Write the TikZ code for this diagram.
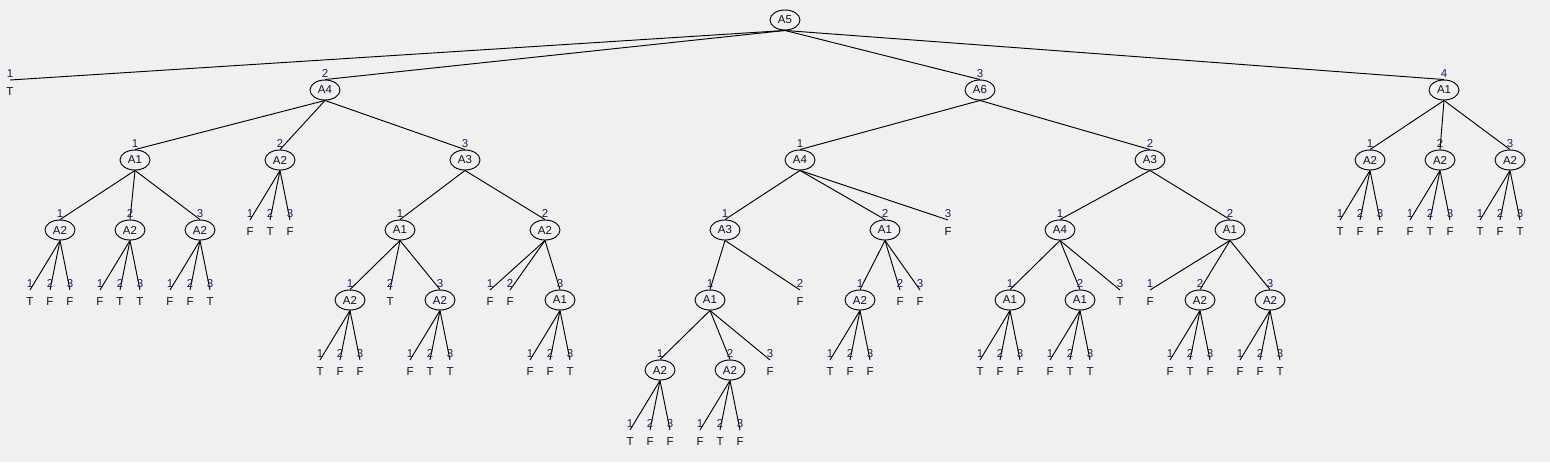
\documentclass[tikz,border=0pt]{standalone}
\usepackage{fontspec}
\setmainfont{Liberation Sans}
\usetikzlibrary{shapes.geometric}
\definecolor{bgcol}{HTML}{F0F0F0}
\definecolor{numcol}{HTML}{1A1C5C}
\definecolor{txtcol}{HTML}{0E1026}
\tikzset{
  inode/.style={ellipse, draw=black, line width=0.7pt, minimum width=22.5pt, minimum height=15pt, inner sep=0pt, font=\fontsize{8.6}{10}\selectfont, text=txtcol},
  leaf/.style={anchor=north, inner xsep=0.5pt, inner ysep=5.25pt, text height=6pt, text depth=0pt, font=\fontsize{8.6}{10}\selectfont, text=txtcol},
  conn/.style={draw=black, line width=0.7pt},
  num/.style={anchor=south, inner sep=1.4pt, font=\fontsize{8.6}{10}\selectfont, text=numcol}
}
\newcommand\tfleaves[6]{%
  \node[leaf] (#1-1) at (#2-30,#3-10) {#4};
  \node[leaf] (#1-2) at (#2-10,#3-10) {#5};
  \node[leaf] (#1-3) at (#2+10,#3-10) {#6};
  \draw[conn] (#1.south) -- (#1-1.north) node[num]{1};
  \draw[conn] (#1.south) -- (#1-2.north) node[num]{2};
  \draw[conn] (#1.south) -- (#1-3.north) node[num]{3};
}
\begin{document}
\begin{tikzpicture}[x=0.75pt, y=-0.75pt]
\fill[bgcol] (0,0) rectangle (1550,462);
\useasboundingbox (0,0) rectangle (1550,462);
% level 0/1
\node[inode] (r) at (785,20) {A5};
\node[leaf] (r1) at (10,80) {T};
\node[inode] (r2) at (325,90) {A4};
\node[inode] (r3) at (980,90) {A6};
\node[inode] (r4) at (1444,90) {A1};
\draw[conn] (r.south) -- (r1.north) node[num]{1};
\draw[conn] (r.south) -- (r2.north) node[num]{2};
\draw[conn] (r.south) -- (r3.north) node[num]{3};
\draw[conn] (r.south) -- (r4.north) node[num]{4};
% subtree A4
\node[inode] (r21) at (135,160) {A1};
\node[inode] (r22) at (280,160) {A2};
\node[inode] (r23) at (465,160) {A3};
\draw[conn] (r2.south) -- (r21.north) node[num]{1};
\draw[conn] (r2.south) -- (r22.north) node[num]{2};
\draw[conn] (r2.south) -- (r23.north) node[num]{3};
\node[inode] (r211) at (60,230) {A2};
\node[inode] (r212) at (130,230) {A2};
\node[inode] (r213) at (200,230) {A2};
\draw[conn] (r21.south) -- (r211.north) node[num]{1};
\draw[conn] (r21.south) -- (r212.north) node[num]{2};
\draw[conn] (r21.south) -- (r213.north) node[num]{3};
\tfleaves{r211}{60}{300}{T}{F}{F}
\tfleaves{r212}{130}{300}{F}{T}{T}
\tfleaves{r213}{200}{300}{F}{F}{T}
\tfleaves{r22}{280}{230}{F}{T}{F}
\node[inode] (r231) at (400,230) {A1};
\node[inode] (r232) at (545,230) {A2};
\draw[conn] (r23.south) -- (r231.north) node[num]{1};
\draw[conn] (r23.south) -- (r232.north) node[num]{2};
\node[inode] (r2311) at (350,300) {A2};
\node[leaf] (r2312) at (390,290) {T};
\node[inode] (r2313) at (440,300) {A2};
\draw[conn] (r231.south) -- (r2311.north) node[num]{1};
\draw[conn] (r231.south) -- (r2312.north) node[num]{2};
\draw[conn] (r231.south) -- (r2313.north) node[num]{3};
\tfleaves{r2311}{350}{370}{T}{F}{F}
\tfleaves{r2313}{440}{370}{F}{T}{T}
\node[leaf] (r2321) at (490,290) {F};
\node[leaf] (r2322) at (510,290) {F};
\node[inode] (r2323) at (560,300) {A1};
\draw[conn] (r232.south) -- (r2321.north) node[num]{1};
\draw[conn] (r232.south) -- (r2322.north) node[num]{2};
\draw[conn] (r232.south) -- (r2323.north) node[num]{3};
\tfleaves{r2323}{560}{370}{F}{F}{T}
% subtree A6
\node[inode] (r31) at (800,160) {A4};
\node[inode] (r32) at (1150,160) {A3};
\draw[conn] (r3.south) -- (r31.north) node[num]{1};
\draw[conn] (r3.south) -- (r32.north) node[num]{2};
\node[inode] (r311) at (725,230) {A3};
\node[inode] (r312) at (885,230) {A1};
\node[leaf] (r313) at (948,220) {F};
\draw[conn] (r31.south) -- (r311.north) node[num]{1};
\draw[conn] (r31.south) -- (r312.north) node[num]{2};
\draw[conn] (r31.south) -- (r313.north) node[num]{3};
\node[inode] (r3111) at (710,300) {A1};
\node[leaf] (r3112) at (800,290) {F};
\draw[conn] (r311.south) -- (r3111.north) node[num]{1};
\draw[conn] (r311.south) -- (r3112.north) node[num]{2};
\node[inode] (r31111) at (660,370) {A2};
\node[inode] (r31112) at (730,370) {A2};
\node[leaf] (r31113) at (770,360) {F};
\draw[conn] (r3111.south) -- (r31111.north) node[num]{1};
\draw[conn] (r3111.south) -- (r31112.north) node[num]{2};
\draw[conn] (r3111.south) -- (r31113.north) node[num]{3};
\tfleaves{r31111}{660}{440}{T}{F}{F}
\tfleaves{r31112}{730}{440}{F}{T}{F}
\node[inode] (r3121) at (860,300) {A2};
\node[leaf] (r3122) at (900,290) {F};
\node[leaf] (r3123) at (920,290) {F};
\draw[conn] (r312.south) -- (r3121.north) node[num]{1};
\draw[conn] (r312.south) -- (r3122.north) node[num]{2};
\draw[conn] (r312.south) -- (r3123.north) node[num]{3};
\tfleaves{r3121}{860}{370}{T}{F}{F}
\node[inode] (r321) at (1060,230) {A4};
\node[inode] (r322) at (1230,230) {A1};
\draw[conn] (r32.south) -- (r321.north) node[num]{1};
\draw[conn] (r32.south) -- (r322.north) node[num]{2};
\node[inode] (r3211) at (1010,300) {A1};
\node[inode] (r3212) at (1080,300) {A1};
\node[leaf] (r3213) at (1120,290) {T};
\draw[conn] (r321.south) -- (r3211.north) node[num]{1};
\draw[conn] (r321.south) -- (r3212.north) node[num]{2};
\draw[conn] (r321.south) -- (r3213.north) node[num]{3};
\tfleaves{r3211}{1010}{370}{T}{F}{F}
\tfleaves{r3212}{1080}{370}{F}{T}{T}
\node[leaf] (r3221) at (1150,290) {F};
\node[inode] (r3222) at (1200,300) {A2};
\node[inode] (r3223) at (1270,300) {A2};
\draw[conn] (r322.south) -- (r3221.north) node[num]{1};
\draw[conn] (r322.south) -- (r3222.north) node[num]{2};
\draw[conn] (r322.south) -- (r3223.north) node[num]{3};
\tfleaves{r3222}{1200}{370}{F}{T}{F}
\tfleaves{r3223}{1270}{370}{F}{F}{T}
% subtree A1 (right)
\node[inode] (r41) at (1370,160) {A2};
\node[inode] (r42) at (1440,160) {A2};
\node[inode] (r43) at (1510,160) {A2};
\draw[conn] (r4.south) -- (r41.north) node[num]{1};
\draw[conn] (r4.south) -- (r42.north) node[num]{2};
\draw[conn] (r4.south) -- (r43.north) node[num]{3};
\tfleaves{r41}{1370}{230}{T}{F}{F}
\tfleaves{r42}{1440}{230}{F}{T}{F}
\tfleaves{r43}{1510}{230}{T}{F}{T}
\end{tikzpicture}
\end{document}
